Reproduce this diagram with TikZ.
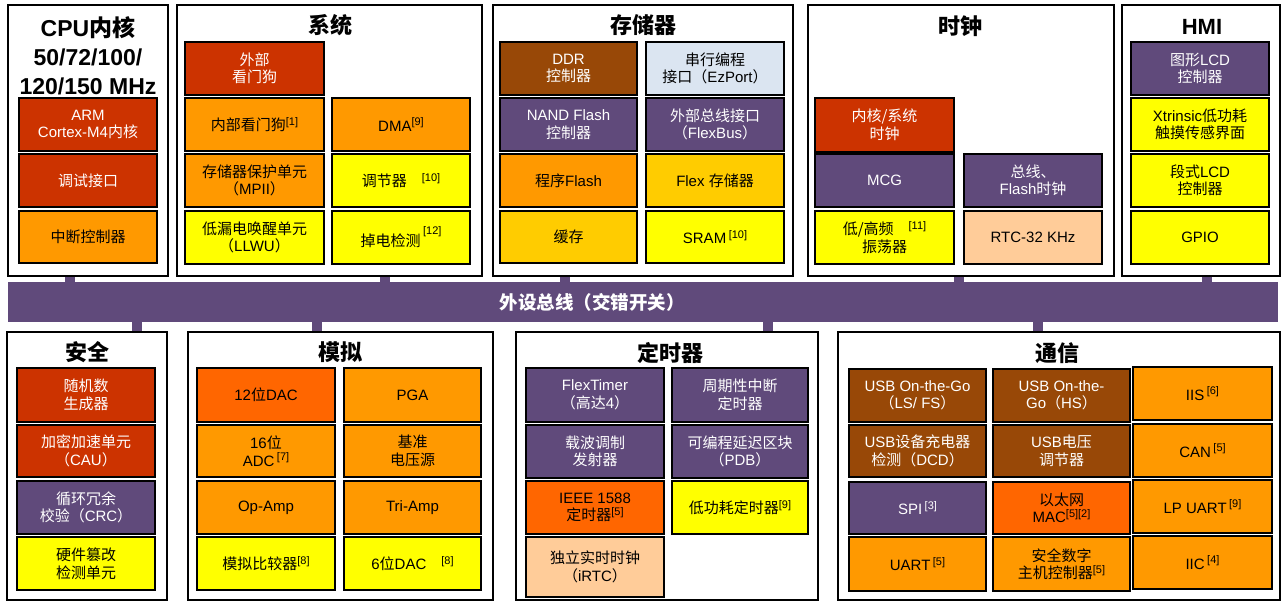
\documentclass[tikz,border=0pt]{standalone}
\usepackage{fontspec}
\setmainfont{Liberation Sans}
\newfontfamily\cjk{Noto Sans CJK SC}
\newcommand\zh[1]{{\cjk #1}}
\newcommand\refmark[1]{\raisebox{5.5pt}{\fontsize{11}{11}\selectfont[#1]}}
\definecolor{dred}{HTML}{CC3300}
\definecolor{org}{HTML}{FF9900}
\definecolor{yel}{HTML}{FFFF00}
\definecolor{gold}{HTML}{FFCC00}
\definecolor{purp}{HTML}{604A7B}
\definecolor{brn}{HTML}{984807}
\definecolor{lblue}{HTML}{DBE5F1}
\definecolor{ored}{HTML}{FF6600}
\definecolor{peach}{HTML}{FFCC99}
\tikzset{
  box/.style={draw=black, line width=1.3pt, align=center, inner sep=1pt, font=\fontsize{15}{17.5}\selectfont},
  wred/.style={box, fill=dred, text=white},
  wpurp/.style={box, fill=purp, text=white},
  wbrn/.style={box, fill=brn, text=white},
  worg/.style={box, fill=org, text=black},
  wyel/.style={box, fill=yel, text=black},
  wgold/.style={box, fill=gold, text=black},
  wlblue/.style={box, fill=lblue, text=black},
  wored/.style={box, fill=ored, text=black},
  wpeach/.style={box, fill=peach, text=black},
  frame/.style={draw=black, line width=2.2pt, fill=white, inner sep=0pt},
  busst/.style={fill=purp, draw=none, inner sep=0pt},
  title/.style={align=center, inner sep=0pt, font=\fontsize{22}{29}\selectfont\bfseries},
  stub/.style={draw=purp, line width=10pt},
}
\newcommand\mybox[7]{\node[#6, minimum width={#4-#2}, minimum height={#5-#3}] (#1) at ({(#2+#4)/2},{(#3+#5)/2}) {#7};}
\begin{document}
\begin{tikzpicture}[x=1pt,y=-1pt]
\useasboundingbox (0,0) rectangle (1283,602);
\fill[white] (0,0) rectangle (1283,602);
% bus
\mybox{bus}{8}{282}{1278}{322}{busst}{}
% frames
\mybox{cpuF}{8}{5}{168}{276}{frame}{}
\mybox{sysF}{177}{5}{482}{276}{frame}{}
\mybox{memF}{493}{5}{793}{276}{frame}{}
\mybox{clkF}{808}{5}{1114}{276}{frame}{}
\mybox{hmiF}{1122}{5}{1280}{276}{frame}{}
\mybox{secF}{7}{332}{167}{600}{frame}{}
\mybox{anaF}{188}{332}{493}{600}{frame}{}
\mybox{timF}{516}{332}{818}{600}{frame}{}
\mybox{comF}{838}{332}{1280}{600}{frame}{}
% stubs
\coordinate (t1) at (70,0);
\coordinate (t2) at (385,0);
\coordinate (t3) at (565,0);
\coordinate (t4) at (959,0);
\coordinate (t5) at (1207,0);
\coordinate (u1) at (137,0);
\coordinate (u2) at (317,0);
\coordinate (u3) at (768,0);
\coordinate (u4) at (1038,0);
\draw[stub] (cpuF.south -| t1) -- (bus.north -| t1);
\draw[stub] (sysF.south -| t2) -- (bus.north -| t2);
\draw[stub] (memF.south -| t3) -- (bus.north -| t3);
\draw[stub] (clkF.south -| t4) -- (bus.north -| t4);
\draw[stub] (hmiF.south -| t5) -- (bus.north -| t5);
\draw[stub] (bus.south -| u1) -- (secF.north -| u1);
\draw[stub] (bus.south -| u2) -- (anaF.north -| u2);
\draw[stub] (bus.south -| u3) -- (timF.north -| u3);
\draw[stub] (bus.south -| u4) -- (comF.north -| u4);
\node[text=white, inner sep=0pt, font=\fontsize{18.5}{20}\selectfont\bfseries] (bustext) at (592,302) {\zh{外设总线（交错开关）}};
% titles
\node[title, font=\fontsize{23}{29}\selectfont\bfseries] (cpuT) at (88,56) {CPU\zh{内核}\\50/72/100/\\120/150 MHz};
\node[title] (sysT) at (330,25) {\zh{系统}};
\node[title] (memT) at (643,25) {\zh{存储器}};
\node[title] (clkT) at (960,26) {\zh{时钟}};
\node[title] (hmiT) at (1202,27) {HMI};
\node[title] (secT) at (87,352) {\zh{安全}};
\node[title] (anaT) at (340,352) {\zh{模拟}};
\node[title] (timT) at (670,353) {\zh{定时器}};
\node[title] (comT) at (1057,353) {\zh{通信}};
% CPU
\mybox{arm}{19}{98}{157}{151}{wred}{ARM\\Cortex-M4\zh{内核}}
\mybox{dbg}{19}{154}{157}{207}{wred}{\zh{调试接口}}
\mybox{nvic}{19}{211}{157}{263}{worg}{\zh{中断控制器}}
% System
\mybox{ewdog}{185}{42}{324}{95}{wred}{\zh{外部}\\\zh{看门狗}}
\mybox{iwdog}{185}{98}{324}{151}{worg}{\zh{内部看门狗}\refmark{1}}
\mybox{dma}{332}{98}{470}{151}{worg}{DMA\refmark{9}}
\mybox{mpu}{185}{154}{324}{207}{worg}{\zh{存储器保护单元}\\\zh{（}MPII\zh{）}}
\mybox{vreg}{332}{154}{470}{207}{wyel}{\zh{调节器}\quad\refmark{10}}
\mybox{llwu}{185}{211}{324}{264}{wyel}{\zh{低漏电唤醒单元}\\\zh{（}LLWU\zh{）}}
\mybox{bod}{332}{211}{470}{264}{wyel}{\zh{掉电检测}\,\raisebox{12pt}{\fontsize{11}{11}\selectfont[12]}}
% Memory
\mybox{ddr}{500}{42}{637}{95}{wbrn}{DDR\\\zh{控制器}}
\mybox{ezport}{646}{42}{784}{95}{wlblue}{\zh{串行编程}\\\zh{接口（}EzPort\zh{）}}
\mybox{nand}{500}{98}{637}{151}{wpurp}{NAND Flash\\\zh{控制器}}
\mybox{flexbus}{646}{98}{784}{151}{wpurp}{\zh{外部总线接口}\\\zh{（}FlexBus\zh{）}}
\mybox{pflash}{500}{154}{637}{207}{worg}{\zh{程序}Flash}
\mybox{flexmem}{646}{154}{784}{207}{wgold}{Flex \zh{存储器}}
\mybox{cache}{500}{211}{637}{263}{wgold}{\zh{缓存}}
\mybox{sram}{646}{211}{784}{263}{wyel}{SRAM\,\refmark{10}}
% Clock
\mybox{sysclk}{815}{98}{954}{152}{wred}{\zh{内核/系统}\\\zh{时钟}}
\mybox{mcg}{815}{154}{954}{207}{wpurp}{MCG}
\mybox{busclk}{964}{154}{1102}{207}{wpurp}{\zh{总线、}\\Flash\zh{时钟}}
\mybox{osc}{815}{211}{954}{264}{wyel}{\zh{低/高频}\quad\refmark{11}\\\zh{振荡器}\hspace{30pt}}
\mybox{rtc}{964}{211}{1102}{264}{wpeach}{RTC-32 KHz}
% HMI
\mybox{glcd}{1131}{42}{1269}{95}{wpurp}{\zh{图形}LCD\\\zh{控制器}}
\mybox{tsi}{1131}{98}{1269}{151}{wyel}{Xtrinsic\zh{低功耗}\\\zh{触摸传感界面}}
\mybox{slcd}{1131}{154}{1269}{207}{wyel}{\zh{段式}LCD\\\zh{控制器}}
\mybox{gpio}{1131}{211}{1269}{264}{wyel}{GPIO}
% Security
\mybox{rng}{17}{368}{155}{422}{wred}{\zh{随机数}\\\zh{生成器}}
\mybox{cau}{17}{425}{155}{477}{wred}{\zh{加密加速单元}\\\zh{（}CAU\zh{）}}
\mybox{crc}{17}{481}{155}{534}{wpurp}{\zh{循环冗余}\\\zh{校验（}CRC\zh{）}}
\mybox{tamper}{17}{537}{155}{590}{wyel}{\zh{硬件篡改}\\\zh{检测单元}}
% Analog
\mybox{dactw}{197}{368}{335}{422}{wored}{12\zh{位}DAC}
\mybox{pga}{344}{368}{481}{422}{worg}{PGA}
\mybox{adc}{197}{425}{335}{477}{worg}{16\zh{位}\\ADC\,\refmark{7}}
\mybox{vref}{344}{425}{481}{477}{worg}{\zh{基准}\\\zh{电压源}}
\mybox{opamp}{197}{481}{335}{534}{worg}{Op-Amp}
\mybox{triamp}{344}{481}{481}{534}{worg}{Tri-Amp}
\mybox{cmp}{197}{537}{335}{590}{wyel}{\zh{模拟比较器}\refmark{8}}
\mybox{dacsix}{344}{537}{481}{590}{wyel}{6\zh{位}DAC\quad\refmark{8}}
% Timers
\mybox{ftm}{526}{368}{664}{422}{wpurp}{FlexTimer\\\zh{（高达}4\zh{）}}
\mybox{pit}{672}{368}{808}{422}{wpurp}{\zh{周期性中断}\\\zh{定时器}}
\mybox{cmt}{526}{425}{664}{478}{wpurp}{\zh{载波调制}\\\zh{发射器}}
\mybox{pdb}{672}{425}{808}{478}{wpurp}{\zh{可编程延迟区块}\\\zh{（}PDB\zh{）}}
\mybox{ieee}{526}{481}{664}{534}{wored}{IEEE 1588\\\zh{定时器}\refmark{5}}
\mybox{lptmr}{672}{481}{808}{534}{wyel}{\zh{低功耗定时器}\refmark{9}}
\mybox{irtc}{526}{537}{664}{597}{wpeach}{\zh{独立实时时钟}\\\zh{（}iRTC\zh{）}}
% Communication
\mybox{otgfs}{849}{369}{986}{422}{wbrn}{USB On-the-Go\\\zh{（}LS/ FS\zh{）}}
\mybox{otghs}{993}{369}{1130}{422}{wbrn}{USB On-the-\\Go\zh{（}HS\zh{）}}
\mybox{iis}{1133}{367}{1272}{420}{worg}{IIS\,\refmark{6}}
\mybox{dcd}{849}{425}{986}{477}{wbrn}{USB\zh{设备充电器}\\\zh{检测（}DCD\zh{）}}
\mybox{usbreg}{993}{425}{1130}{477}{wbrn}{USB\zh{电压}\\\zh{调节器}}
\mybox{can}{1133}{424}{1272}{477}{worg}{CAN\,\refmark{5}}
\mybox{spi}{849}{482}{986}{534}{wpurp}{SPI\,\refmark{3}}
\mybox{enet}{993}{482}{1130}{534}{wored}{\zh{以太网}\\MAC\refmark{5}\refmark{2}}
\mybox{lpuart}{1133}{480}{1272}{533}{worg}{LP UART\,\refmark{9}}
\mybox{uart}{849}{537}{986}{591}{worg}{UART\,\refmark{5}}
\mybox{sdhc}{993}{537}{1130}{591}{worg}{\zh{安全数字}\\\zh{主机控制器}\refmark{5}}
\mybox{iic}{1133}{536}{1272}{589}{worg}{IIC\,\refmark{4}}
\end{tikzpicture}
\end{document}
